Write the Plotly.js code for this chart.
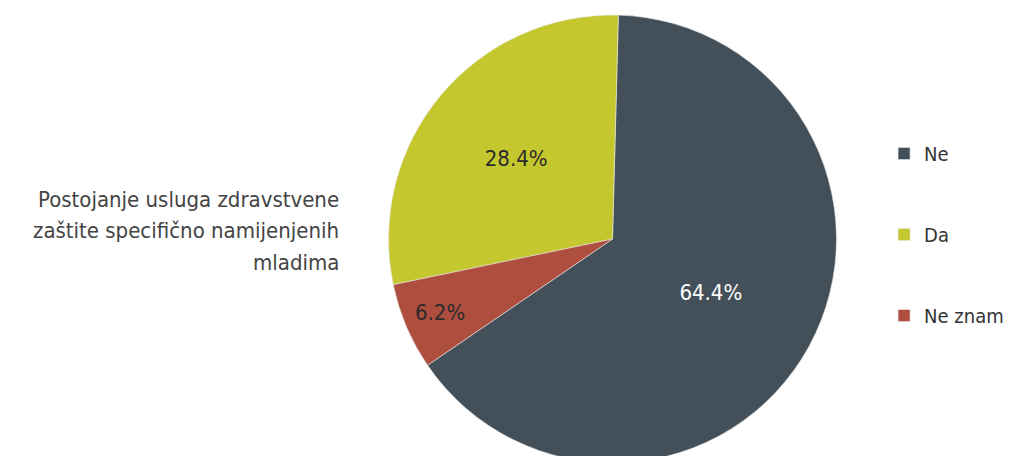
<!DOCTYPE html>
<html>
<head>
<meta charset="utf-8">
<script src="https://cdn.plot.ly/plotly-3.0.1.min.js"></script>
<style>
html, body { margin: 0; padding: 0; overflow: hidden; background: #ffffff; }
#chart { width: 1015px; height: 463px; }
</style>
</head>
<body>
<div id="chart"></div>
<script>
// Data
const categories = ['Ne', 'Da', 'Ne znam'];
const values = [64.4, 28.4, 6.2];
const valueLabels = ['64.4%', '28.4%', '6.2%'];
const sliceColors = ['#434f59', '#c5c72e', '#ae4e3f'];
const insideTextColors = ['#ffffff', '#2b2b2b', '#2b2b2b'];
const sideTitleLines = ['Postojanje usluga zdravstvene', 'zaštite specifično namijenjenih', 'mladima'];

const FONT = '"DejaVu Sans Condensed", "Liberation Sans Narrow", Roboto, sans-serif';

// Legend labels padded with blank lines to space the legend entries
const legendLabels = categories.map(c => '&nbsp;<br>' + c + '<br>&nbsp;');

const trace = {
  type: 'pie',
  labels: legendLabels,
  values: values,
  text: valueLabels,
  textinfo: 'text',
  hoverinfo: 'text',
  textposition: 'inside',
  insidetextorientation: 'horizontal',
  sort: false,
  direction: 'counterclockwise',
  rotation: 1.5,
  marker: { colors: sliceColors, line: { color: '#e8e8e8', width: 0.6 } },
  insidetextfont: { family: FONT, size: 22, color: insideTextColors },
  domain: { x: [0.3828, 0.8241], y: [0, 1] }
};

// Side title: one annotation per line, 31.5 px apart
const plotTop = 15, plotH = 448;
const lineCenters = [199, 230.5, 262];
const annotations = sideTitleLines.map((line, i) => ({
  text: line,
  xref: 'paper', yref: 'paper',
  x: 0.336, xanchor: 'right',
  y: 1 - (lineCenters[i] - plotTop) / plotH, yanchor: 'middle',
  align: 'right',
  showarrow: false,
  font: { family: FONT, size: 22, color: '#444444' }
}));

const layout = {
  width: 1015,
  height: 463,
  margin: { l: 0, r: 0, t: plotTop, b: 0 },
  paper_bgcolor: '#ffffff',
  font: { family: FONT, color: '#333333' },
  showlegend: true,
  legend: {
    x: 0.871, xanchor: 'left',
    y: 0.51, yanchor: 'middle',
    font: { family: FONT, size: 20, color: '#333333' },
    bgcolor: 'rgba(0,0,0,0)'
  },
  annotations: annotations
};

Plotly.newPlot('chart', [trace], layout, { displayModeBar: false, staticPlot: true });
</script>
</body>
</html>
